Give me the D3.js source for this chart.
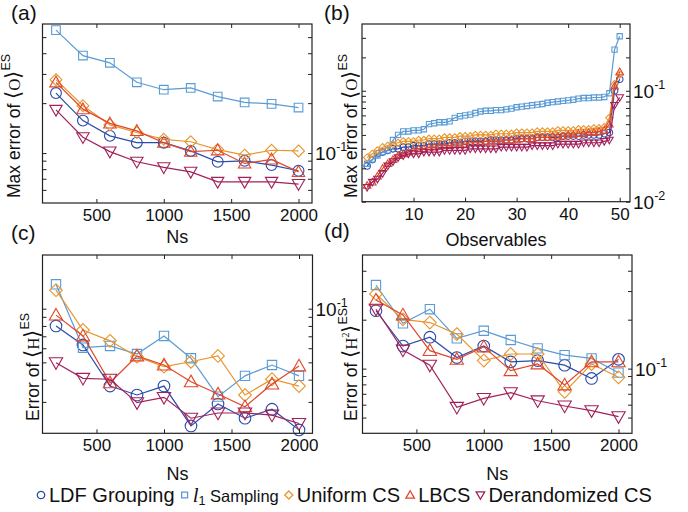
<!DOCTYPE html>
<html>
<head>
<meta charset="utf-8">
<script src="https://cdn.jsdelivr.net/npm/d3@7"></script>
<style>
  html, body { margin: 0; padding: 0; background: #fff; }
  svg { display: block; font-family: "Liberation Sans", Arial, Helvetica, sans-serif; }
</style>
</head>
<body>
<svg id="chart" width="688" height="512"></svg>
<script>
// ---- data ----
const seriesNames = ["LDF Grouping", "l1 Sampling", "Uniform CS", "LBCS", "Derandomized CS"];
const seriesColors = ["#2b4bab", "#5b9bd5", "#e8952e", "#e0472a", "#a2205a"];
const seriesShapes = ["circle", "square", "diamond", "triangle", "triangleDown"];

const nsValues = [200, 400, 600, 800, 1000, 1200, 1400, 1600, 1800, 2000];
const nsTicks = [500, 1000, 1500, 2000];
const obsTicks = [10, 20, 30, 40, 50];
const obsIndex = d3.range(1, 51);

// (a) max error of <O>
const aLDF = [0.230, 0.157, 0.127, 0.1155, 0.1155, 0.103, 0.0886, 0.0898, 0.0846, 0.0782];
const aL1 = [0.551, 0.387, 0.350, 0.267, 0.241, 0.247, 0.219, 0.202, 0.198, 0.188];
const aUniform = [0.277, 0.193, 0.148, 0.133, 0.121, 0.117, 0.105, 0.0972, 0.104, 0.103];
const aLBCS = [0.267, 0.184, 0.151, 0.136, 0.1155, 0.102, 0.104, 0.0866, 0.0916, 0.077];
const aDerand = [0.182, 0.1245, 0.102, 0.0886, 0.082, 0.077, 0.067, 0.067, 0.067, 0.065];

// (b) max error of <O> per observable (sorted)
const bLDF = [0.021, 0.024, 0.027, 0.028, 0.029, 0.030, 0.030, 0.031, 0.031, 0.032, 0.032, 0.032, 0.033, 0.033, 0.033, 0.033, 0.034, 0.034, 0.034, 0.035, 0.035, 0.035, 0.035, 0.035, 0.036, 0.036, 0.036, 0.036, 0.036, 0.037, 0.037, 0.037, 0.037, 0.038, 0.038, 0.038, 0.038, 0.038, 0.039, 0.039, 0.039, 0.039, 0.040, 0.040, 0.040, 0.040, 0.041, 0.042, 0.100, 0.127];
const bL1 = [0.022, 0.024, 0.026, 0.028, 0.029, 0.036, 0.040, 0.043, 0.043, 0.044, 0.044, 0.045, 0.050, 0.051, 0.052, 0.052, 0.053, 0.057, 0.059, 0.060, 0.061, 0.063, 0.065, 0.066, 0.066, 0.067, 0.067, 0.068, 0.069, 0.071, 0.072, 0.073, 0.074, 0.075, 0.076, 0.078, 0.079, 0.080, 0.081, 0.082, 0.083, 0.085, 0.086, 0.086, 0.087, 0.087, 0.088, 0.095, 0.235, 0.310];
const bUniform = [0.025, 0.027, 0.029, 0.031, 0.032, 0.033, 0.034, 0.035, 0.035, 0.035, 0.036, 0.036, 0.037, 0.037, 0.037, 0.038, 0.038, 0.038, 0.039, 0.039, 0.039, 0.040, 0.040, 0.040, 0.040, 0.041, 0.041, 0.041, 0.041, 0.042, 0.042, 0.042, 0.042, 0.043, 0.043, 0.043, 0.043, 0.044, 0.044, 0.044, 0.044, 0.045, 0.045, 0.045, 0.046, 0.046, 0.047, 0.057, 0.115, 0.140];
const bLBCS = [0.014, 0.015, 0.017, 0.020, 0.022, 0.024, 0.026, 0.027, 0.028, 0.029, 0.030, 0.030, 0.031, 0.031, 0.032, 0.032, 0.032, 0.033, 0.033, 0.033, 0.034, 0.034, 0.034, 0.035, 0.035, 0.035, 0.035, 0.036, 0.036, 0.036, 0.037, 0.037, 0.037, 0.038, 0.038, 0.038, 0.039, 0.039, 0.039, 0.040, 0.040, 0.041, 0.041, 0.042, 0.042, 0.043, 0.044, 0.050, 0.110, 0.148];
const bDerand = [0.0135, 0.015, 0.016, 0.018, 0.021, 0.023, 0.025, 0.026, 0.027, 0.027, 0.027, 0.028, 0.028, 0.028, 0.028, 0.029, 0.029, 0.029, 0.029, 0.029, 0.030, 0.030, 0.030, 0.030, 0.030, 0.030, 0.031, 0.031, 0.031, 0.031, 0.031, 0.031, 0.032, 0.032, 0.032, 0.032, 0.032, 0.033, 0.033, 0.033, 0.033, 0.033, 0.034, 0.034, 0.034, 0.034, 0.035, 0.036, 0.074, 0.087];

// (c) error of <H>
const cLDF = [0.080, 0.0626, 0.0368, 0.0328, 0.0368, 0.022, 0.0292, 0.0243, 0.0273, 0.0209];
const cL1 = [0.137, 0.0604, 0.0618, 0.0557, 0.0703, 0.0527, 0.0321, 0.042, 0.0483, 0.042];
const cUniform = [0.127, 0.0759, 0.066, 0.0538, 0.0473, 0.0504, 0.0543, 0.0328, 0.0402, 0.0368];
const cLBCS = [0.092, 0.0703, 0.0384, 0.0543, 0.0483, 0.0389, 0.0332, 0.0282, 0.0378, 0.0477];
const cDerand = [0.0498, 0.0407, 0.0402, 0.0297, 0.0318, 0.0243, 0.026, 0.026, 0.0253, 0.0227];

// (d) error of <H^2>
const dLDF = [0.227, 0.1377, 0.156, 0.117, 0.1377, 0.110, 0.112, 0.105, 0.087, 0.114];
const dL1 = [0.327, 0.190, 0.232, 0.1535, 0.171, 0.150, 0.1333, 0.121, 0.1156, 0.0944];
const dUniform = [0.288, 0.201, 0.192, 0.163, 0.112, 0.123, 0.123, 0.072, 0.1068, 0.0884];
const dLBCS = [0.264, 0.214, 0.129, 0.114, 0.136, 0.0971, 0.1068, 0.0793, 0.110, 0.110];
const dDerand = [0.232, 0.130, 0.105, 0.0578, 0.0656, 0.0711, 0.0634, 0.0589, 0.0551, 0.0506];

// ---- drawing ----
const svg = d3.select("#chart");

function markerPath(shape, s) {
  switch (shape) {
    case "circle":
      return `M${-s},0A${s},${s} 0 1,0 ${s},0A${s},${s} 0 1,0 ${-s},0Z`;
    case "square": {
      const h = s * 0.8;
      return `M${-h},${-h}H${h}V${h}H${-h}Z`;
    }
    case "diamond":
      return `M0,${-s * 1.1}L${s * 1.1},0L0,${s * 1.1}L${-s * 1.1},0Z`;
    case "triangle":
      return `M0,${-s * 1.15}L${s * 1.15},${s * 0.85}L${-s * 1.15},${s * 0.85}Z`;
    case "triangleDown":
      return `M0,${s * 1.15}L${s * 1.15},${-s * 0.85}L${-s * 1.15},${-s * 0.85}Z`;
  }
}

function drawPanel(p) {
  const x = d3.scaleLinear().domain(p.xDomain).range([p.left, p.right]);
  const y = d3.scaleLog().domain(p.yDomain).range([p.bottom, p.top]);
  const g = svg.append("g");

  // series lines + markers
  p.series.forEach((vals, i) => {
    const pts = p.xs.map((xv, j) => [x(xv), y(vals[j])]);
    g.append("path")
      .attr("d", d3.line()(pts))
      .attr("fill", "none")
      .attr("stroke", seriesColors[i])
      .attr("stroke-width", 1.2);
    g.selectAll(null)
      .data(pts)
      .enter()
      .append("path")
      .attr("transform", d => `translate(${d[0]},${d[1]})`)
      .attr("d", markerPath(seriesShapes[i], p.markerSize))
      .attr("fill", "none")
      .attr("stroke", seriesColors[i])
      .attr("stroke-width", 1.1);
  });

  // frame
  g.append("rect")
    .attr("x", p.left).attr("y", p.top)
    .attr("width", p.right - p.left).attr("height", p.bottom - p.top)
    .attr("fill", "none").attr("stroke", "#222").attr("stroke-width", 1.2);

  // x ticks (inward, bottom and top)
  const xb = g.append("g").attr("transform", `translate(0,${p.bottom})`)
    .call(d3.axisBottom(x).tickValues(p.xTicks).tickFormat(d3.format("d"))
      .tickSizeInner(-4).tickSizeOuter(0).tickPadding(6));
  xb.select(".domain").remove();
  xb.selectAll("line").attr("stroke", "#222");
  xb.selectAll("text").attr("font-size", 17).attr("fill", "#111")
    .attr("font-family", "Liberation Sans, Arial, sans-serif");
  const xt = g.append("g").attr("transform", `translate(0,${p.top})`)
    .call(d3.axisTop(x).tickValues(p.xTicks).tickSizeInner(-4).tickSizeOuter(0).tickFormat(""));
  xt.select(".domain").remove();
  xt.selectAll("line").attr("stroke", "#222");

  // y ticks (inward, left and right)
  const allY = p.yMinor.concat(p.yMajor);
  const yl = g.append("g").attr("transform", `translate(${p.left},0)`)
    .call(d3.axisLeft(y).tickValues(allY).tickSizeInner(-4).tickSizeOuter(0).tickFormat(""));
  yl.select(".domain").remove();
  yl.selectAll("line").attr("stroke", "#222");
  const yr = g.append("g").attr("transform", `translate(${p.right},0)`)
    .call(d3.axisRight(y).tickValues(allY).tickSizeInner(-4).tickSizeOuter(0).tickFormat(""));
  yr.select(".domain").remove();
  yr.selectAll("line").attr("stroke", "#222");

  // power-of-ten labels on the right
  p.yMajor.forEach(v => {
    const t = g.append("text")
      .attr("x", p.right + 3)
      .attr("y", y(v) + 7)
      .attr("font-size", 19)
      .attr("fill", "#111");
    t.append("tspan").text("10");
    t.append("tspan").attr("font-size", 12.5).attr("dy", -9)
      .text("-" + Math.round(-Math.log10(v)));
  });

  // x title
  g.append("text")
    .attr("x", (p.left + p.right) / 2)
    .attr("y", p.xTitleY)
    .attr("text-anchor", "middle")
    .attr("font-size", 18)
    .attr("fill", "#111")
    .text(p.xTitle);

  // y title (rotated, starts at the bottom)
  const yt = g.append("text")
    .attr("transform", `translate(${p.yTitleX},${p.yTitleY}) rotate(-90)`)
    .attr("text-anchor", "start")
    .attr("font-size", 17.5)
    .attr("fill", "#111");
  yt.append("tspan").text(p.yTitle[0]);
  yt.append("tspan").attr("font-size", 21).text("\u27E8");
  yt.append("tspan").attr("font-family", "Liberation Serif, DejaVu Serif, serif")
    .attr("font-size", 17).text(p.yTitle[1]);
  if (p.yTitle[2]) {
    yt.append("tspan").attr("font-family", "Liberation Serif, serif")
      .attr("font-size", 10).attr("dy", -8).text(p.yTitle[2]);
    yt.append("tspan").attr("font-size", 21).attr("dy", 8).text("\u27E9");
  } else {
    yt.append("tspan").attr("font-size", 21).text("\u27E9");
  }
  yt.append("tspan").attr("font-size", 12.5).attr("dy", -10).text("ES");

  // panel letter
  svg.append("text")
    .attr("x", p.letterX).attr("y", p.letterY)
    .attr("font-size", 21).attr("fill", "#111")
    .text(p.letter);
}

drawPanel({
  letter: "(a)", letterX: 11, letterY: 20,
  left: 42.5, right: 312, top: 24, bottom: 203,
  xDomain: [100, 2100], xs: nsValues, xTicks: nsTicks,
  yDomain: [0.05, 0.6], yMajor: [0.1], yMinor: [0.06, 0.07, 0.08, 0.09, 0.2, 0.3, 0.4, 0.5],
  series: [aLDF, aL1, aUniform, aLBCS, aDerand], markerSize: 5.4,
  xTitle: "Ns", xTitleY: 243,
  yTitle: ["Max error of ", "O"], yTitleX: 20, yTitleY: 198
});

drawPanel({
  letter: "(b)", letterX: 324, letterY: 20,
  left: 362, right: 630, top: 24, bottom: 201.7,
  xDomain: [0, 52], xs: obsIndex, xTicks: obsTicks,
  yDomain: [0.01, 0.4], yMajor: [0.01, 0.1],
  yMinor: [0.02, 0.03, 0.04, 0.05, 0.06, 0.07, 0.08, 0.09, 0.2, 0.3],
  series: [bLDF, bL1, bUniform, bLBCS, bDerand], markerSize: 3.3,
  xTitle: "Observables", xTitleY: 246,
  yTitle: ["Max error of ", "O"], yTitleX: 357, yTitleY: 198
});

drawPanel({
  letter: "(c)", letterX: 11, letterY: 240,
  left: 42.5, right: 312.5, top: 255, bottom: 433.3,
  xDomain: [100, 2100], xs: nsValues, xTicks: nsTicks,
  yDomain: [0.02, 0.2], yMajor: [0.1], yMinor: [0.03, 0.04, 0.05, 0.06, 0.07, 0.08, 0.09],
  series: [cLDF, cL1, cUniform, cLBCS, cDerand], markerSize: 5.8,
  xTitle: "Ns", xTitleY: 480,
  yTitle: ["Error of ", "H"], yTitleX: 39, yTitleY: 421
});

drawPanel({
  letter: "(d)", letterX: 324, letterY: 238,
  left: 362.5, right: 632, top: 255, bottom: 433.3,
  xDomain: [100, 2100], xs: nsValues, xTicks: nsTicks,
  yDomain: [0.04, 0.5], yMajor: [0.1], yMinor: [0.05, 0.06, 0.07, 0.08, 0.09, 0.2, 0.3, 0.4],
  series: [dLDF, dL1, dUniform, dLBCS, dDerand], markerSize: 5.8,
  xTitle: "Ns", xTitleY: 480,
  yTitle: ["Error of ", "H", "2"], yTitleX: 357, yTitleY: 421
});

// ---- legend ----
const legend = svg.append("g");
let lx = 41;
const ly = 495;
seriesNames.forEach((name, i) => {
  legend.append("path")
    .attr("transform", `translate(${lx},${ly})`)
    .attr("d", markerPath(seriesShapes[i], 3.7))
    .attr("fill", "none")
    .attr("stroke", seriesColors[i])
    .attr("stroke-width", 1.3);
  const t = legend.append("text")
    .attr("x", lx + 8)
    .attr("y", ly + 7)
    .attr("font-size", 20)
    .attr("fill", "#111");
  if (i === 1) {
    t.append("tspan").attr("font-family", "Liberation Serif, serif").attr("font-style", "italic")
      .attr("font-size", 21).text("l");
    t.append("tspan").attr("font-size", 12.5).attr("dy", 3).text("1");
    t.append("tspan").attr("font-size", 16.5).attr("dy", -3).text(" Sampling");
  } else {
    t.text(name);
  }
  lx += 8 + t.node().getComputedTextLength() + 10;
});
</script>
</body>
</html>
